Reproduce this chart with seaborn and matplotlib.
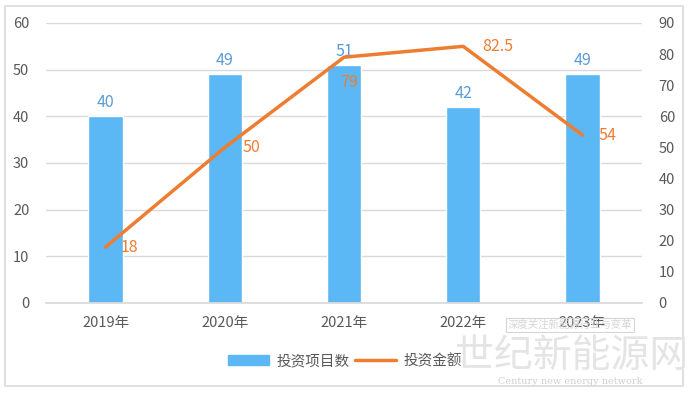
import matplotlib

matplotlib.use("Agg")

import matplotlib.pyplot as plt
import numpy as np
import pandas as pd
import seaborn as sns
from matplotlib.patches import Rectangle

years = ["2019年", "2020年", "2021年", "2022年", "2023年"]
project_counts = [40, 49, 51, 42, 49]
invest_amounts = [18, 50, 79, 82.5, 54]
amount_labels = ["18", "50", "79", "82.5", "54"]

BAR_COLOR = "#5BB8F5"
LINE_COLOR = "#ED7D31"
TEXT_COLOR = "#595959"

sns.set_theme(style="white")
plt.rcParams["font.family"] = ["Noto Sans CJK SC", "DejaVu Sans"]

df = pd.DataFrame({"year": years, "count": project_counts, "amount": invest_amounts})

fig = plt.figure(figsize=(6.88, 3.94), dpi=100)
ax = fig.add_axes([46 / 688, 1 - 303 / 394, 596 / 688, 280 / 394])

sns.barplot(data=df, x="year", y="count", color=BAR_COLOR, saturation=1,
            width=0.29, ax=ax, zorder=2)
ax.set_ylim(0, 60)
ax.set_yticks(range(0, 61, 10))
ax.set_xlim(-0.5, 4.5)
ax.grid(axis="y", color="#D9D9D9", linewidth=1, zorder=0)
ax.set_axisbelow(True)
for s in ax.spines.values():
    s.set_visible(False)
ax.spines["bottom"].set_visible(True)
ax.spines["bottom"].set_color("#D9D9D9")
ax.set_xlabel("")
ax.set_ylabel("")
ax.tick_params(axis="both", length=0, labelsize=10.5, colors=TEXT_COLOR)
ax.tick_params(axis="y", pad=12)
ax.tick_params(axis="x", pad=9)

for i, v in enumerate(project_counts):
    ax.text(i, v + 3.0, str(v), ha="center", va="center", fontsize=11.5,
            color="#5B9BD5")

ax2 = ax.twinx()
sns.lineplot(x=np.arange(len(years)), y=invest_amounts, color=LINE_COLOR,
             linewidth=2.5, ax=ax2, zorder=3)
ax2.set_ylim(0, 90)
ax2.set_yticks(range(0, 91, 10))
for s in ax2.spines.values():
    s.set_visible(False)
ax2.tick_params(axis="y", length=0, labelsize=10.5, colors=TEXT_COLOR, pad=12)
ax2.set_ylabel("")

offsets = [(0.2, 0), (0.22, 0), (0.04, -8), (0.29, 0), (0.21, 0)]
for i, (v, lab) in enumerate(zip(invest_amounts, amount_labels)):
    dx, dy = offsets[i]
    ax2.text(i + dx, v + dy, lab, ha="center", va="center", fontsize=11.5,
             color=LINE_COLOR, zorder=4)

# legend
handles = [Rectangle((0, 0), 1, 1, color=BAR_COLOR),
           plt.Line2D([0], [0], color=LINE_COLOR, linewidth=2.5)]
fig.legend(handles, ["投资项目数", "投资金额"], loc="center",
           bbox_to_anchor=(345 / 688, 1 - 361 / 394), ncol=2, frameon=False,
           fontsize=10.5, labelcolor=TEXT_COLOR, handlelength=2.8,
           columnspacing=0.4, handletextpad=0.5)

# outer border
fig.patches.append(Rectangle((5 / 688, 1 - 386 / 394), 678 / 688, 380 / 394,
                             transform=fig.transFigure, fill=False,
                             edgecolor="#D9D9D9", linewidth=1.2))

# watermark
fig.text(572 / 688, 1 - 356 / 394, "世纪新能源网", ha="center", va="center",
         fontsize=28, color="#E4E4E4", zorder=10)
fig.text(570 / 688, 1 - 381 / 394, "Century new energy network",
         ha="center", va="center", fontsize=7, color="#CFCFCF",
         family="DejaVu Serif", zorder=10)
fig.text(570 / 688, 1 - 325 / 394, "深度关注新能源行业与变革", ha="center",
         va="center", fontsize=7.5, color="#D5D5D5", zorder=10,
         bbox=dict(boxstyle="square,pad=0.2", fc="none", ec="#D5D5D5", lw=0.8))

fig.savefig("out.png", dpi=100)
